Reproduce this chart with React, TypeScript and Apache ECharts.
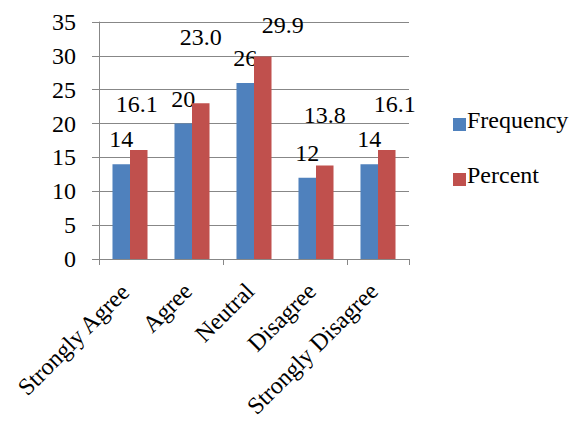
import React, { useEffect, useRef } from "react";
import * as echarts from "echarts";

const categories = ["Strongly Agree", "Agree", "Neutral", "Disagree", "Strongly Disagree"];
const seriesNames = ["Frequency", "Percent"];
const frequency = [14, 20, 26, 12, 14];
const percent = [16.1, 23.0, 29.9, 13.8, 16.1];
const yTicks = { min: 0, max: 35, interval: 5 };

// label placement (style only): gap from bar top to text baseline, and horizontal nudge
const frequencyLabelGap = [17, 17, 17, 17, 17];
const percentLabelGap = [38, 58, 24, 43, 38];
const percentLabelShift = [-2, 0, 20, 0, 8];

const FONT = "Liberation Serif";
const FS = 24;
const GRAY = "#878787";
const COLORS = ["#4F81BD", "#C0504D"];

export default function App() {
  const ref = useRef<HTMLDivElement>(null);
  useEffect(() => {
    document.body.style.margin = "0";
    const el = ref.current;
    if (!el) return;
    const chart = echarts.init(el, null, { renderer: "svg" });
    chart.setOption({
      animation: false,
      grid: { left: 99, right: 170, top: 22, bottom: 168, containLabel: false },
      legend: {
        orient: "vertical",
        left: 448,
        top: 113,
        itemWidth: 13,
        itemHeight: 13,
        itemGap: 42,
        icon: "rect",
        formatter: () => "",
        data: seriesNames,
      },
      xAxis: {
        type: "category",
        data: categories,
        axisLine: { lineStyle: { color: GRAY, width: 1 } },
        axisTick: { show: true, length: 6, lineStyle: { color: GRAY } },
        axisLabel: { show: false },
      },
      yAxis: {
        type: "value",
        min: yTicks.min,
        max: yTicks.max,
        interval: yTicks.interval,
        axisLine: { show: true, lineStyle: { color: GRAY, width: 1 } },
        axisTick: { show: true, length: 7, lineStyle: { color: GRAY } },
        splitLine: { show: true, lineStyle: { color: GRAY, width: 1 } },
        axisLabel: { show: false },
      },
      series: [
        {
          name: seriesNames[0],
          type: "bar",
          data: frequency,
          barGap: "0%",
          barCategoryGap: "43.5%",
          itemStyle: { color: COLORS[0] },
        },
        {
          name: seriesNames[1],
          type: "bar",
          data: percent,
          barGap: "0%",
          barCategoryGap: "43.5%",
          itemStyle: { color: COLORS[1] },
        },
      ],
    });

    // text measurement for placing left/top-anchored texts
    const ctx = document.createElement("canvas").getContext("2d") as CanvasRenderingContext2D;
    ctx.font = `${FS}px "${FONT}", serif`;
    const tw = (s: string) => ctx.measureText(s).width;
    const H = FS;

    const font = { fontFamily: FONT, fontSize: FS, fill: "#000" };
    const els: any[] = [];
    const px = (finder: any, v: any) => chart.convertToPixel(finder, v) as unknown as number;
    const y0 = px({ yAxisIndex: 0 }, 0);
    const cx = categories.map((c) => px({ xAxisIndex: 0 }, c));
    const band = cx[1] - cx[0];
    const left = cx[0] - band / 2;

    // y tick labels: right edge at axis - 23, vertically centred on the value
    for (let v = yTicks.min; v <= yTicks.max; v += yTicks.interval) {
      const s = String(v);
      els.push({
        type: "text",
        x: left - 23 - tw(s),
        y: px({ yAxisIndex: 0 }, v) - H / 2,
        style: { text: s, ...font },
      });
    }

    // category labels, rotated 45°, right-middle anchored below each category
    const a = Math.PI / 4;
    const ux = [Math.cos(a), -Math.sin(a)]; // text direction on screen
    const vy = [Math.sin(a), Math.cos(a)]; // text "down" direction on screen
    categories.forEach((c, i) => {
      const ax = cx[i] - 4;
      const ay = y0 + 28;
      const w = tw(c);
      // local top-left of text = (-w, -H/2) relative to anchor
      const ox = ax + -w * ux[0] + (-H / 2) * vy[0];
      const oy = ay + -w * ux[1] + (-H / 2) * vy[1];
      els.push({
        type: "text",
        x: ox,
        y: oy,
        rotation: a,
        style: { text: c, ...font },
      });
    });

    // data labels, from the bars' own layouts
    const model: any = (chart as any).getModel();
    const addLabels = (si: number, values: number[], gaps: number[], shifts: number[], fmt: (v: number) => string) => {
      const data = model.getSeriesByIndex(si).getData();
      values.forEach((v, i) => {
        const l = data.getItemLayout(i);
        const top = Math.min(l.y, l.y + l.height);
        const mid = l.x + l.width / 2 + shifts[i];
        const s = fmt(v);
        const bottom = top - (gaps[i] - 4);
        els.push({
          type: "text",
          x: mid - tw(s) / 2,
          y: bottom - H,
          style: { text: s, ...font },
        });
      });
    };
    addLabels(0, frequency, frequencyLabelGap, [0, 0, 0, 0, 0], (v) => String(v));
    addLabels(1, percent, percentLabelGap, percentLabelShift, (v) => v.toFixed(1));

    // legend names beside the legend's colour squares
    seriesNames.forEach((n, i) => {
      els.push({
        type: "text",
        x: 467,
        y: 120 + i * 55 - H / 2,
        style: { text: n, ...font },
      });
    });

    chart.setOption({ graphic: { elements: els } });
    return () => chart.dispose();
  }, []);
  return <div ref={ref} style={{ width: 579, height: 427 }} />;
}
